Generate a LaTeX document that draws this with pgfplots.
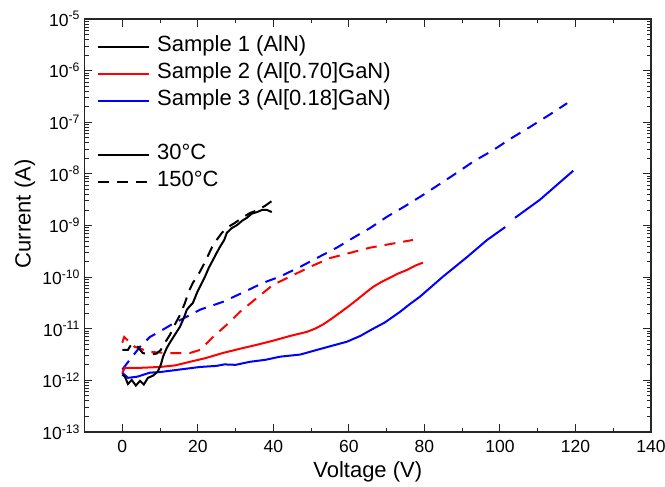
\documentclass[border=0pt]{standalone}
\usepackage{pgfplots}
\pgfplotsset{compat=1.18}
\usepackage{fontspec}
\setmainfont{Liberation Sans}
\newcommand{\tickfont}{\fontsize{17.5}{20}\selectfont}
\newcommand{\labfont}{\fontsize{22}{26}\selectfont}
\begin{document}
\begin{tikzpicture}
\begin{axis}[
  scale only axis,
  width=566.5pt, height=413pt,
  xmin=-10, xmax=140,
  ymode=log, log basis y=10,
  ymin=1e-13, ymax=1e-5,
  xtick={0,20,...,140},
  minor xtick={-10,10,30,...,130},
  ytick={1e-13,1e-12,1e-11,1e-10,1e-9,1e-8,1e-7,1e-6,1e-5},
  minor ytick={2e-13,3e-13,4e-13,5e-13,6e-13,7e-13,8e-13,9e-13,
    2e-12,3e-12,4e-12,5e-12,6e-12,7e-12,8e-12,9e-12,
    2e-11,3e-11,4e-11,5e-11,6e-11,7e-11,8e-11,9e-11,
    2e-10,3e-10,4e-10,5e-10,6e-10,7e-10,8e-10,9e-10,
    2e-9,3e-9,4e-9,5e-9,6e-9,7e-9,8e-9,9e-9,
    2e-8,3e-8,4e-8,5e-8,6e-8,7e-8,8e-8,9e-8,
    2e-7,3e-7,4e-7,5e-7,6e-7,7e-7,8e-7,9e-7,
    2e-6,3e-6,4e-6,5e-6,6e-6,7e-6,8e-6,9e-6},
  tick align=inside,
  major tick length=8pt,
  minor tick length=4.5pt,
  axis line style={line width=1.1pt, black!85},
  every tick/.style={line width=0.9pt, black!85},
  /pgf/number format/assume math mode=true,
  xticklabel style={font=\tickfont, yshift=-5pt},
  yticklabel style={font=\tickfont, xshift=-1pt},
  yticklabel={10\textsuperscript{\pgfmathprintnumber[fixed,precision=0]{\tick}}},
  xlabel={Voltage (V)},
  ylabel={Current (A)},
  xlabel style={font=\labfont, at={(axis description cs:0.5,-0.097)}, anchor=center},
  ylabel style={font=\labfont, at={(axis description cs:-0.105,0.528)}, anchor=center},
  legend cell align=left,
  legend image code/.code={\draw[#1] (0pt,0pt) -- (51pt,0pt);},
  legend style={draw=none, fill=none, font=\labfont, inner sep=0pt,
    at={(axis description cs:0,1)}, anchor=north west, xshift=12.5pt, yshift=-17.5pt,
    row sep=7pt, column sep=7pt,
    nodes={inner sep=0pt, text height=15pt, text depth=5pt}},
]
\path (rel axis cs:0,0) coordinate (O);
% Sample 3 (blue) 30C
\addplot[blue, line width=2pt, forget plot] coordinates {
(0,1.41e-12) (1.5,1.12e-12) (4,1.18e-12) (7.3,1.41e-12) (10,1.45e-12) (14,1.58e-12) (20.6,1.82e-12) (25,1.91e-12)
(27,2.04e-12) (30,2.00e-12) (33.8,2.29e-12) (38,2.51e-12) (41.8,2.88e-12) (47.1,3.16e-12) (51.5,3.89e-12) (55,4.57e-12)
(59.5,5.62e-12) (63,7.24e-12) (66.4,1.00e-11) (69.5,1.32e-11) (73.6,2.14e-11) (76,2.95e-11) (78.8,4.17e-11)
(84.9,1.02e-10) (91.3,2.45e-10) (96.6,5.25e-10) (101.4,9.33e-10)
};
\addplot[blue, line width=2pt, forget plot] coordinates {
(104,1.41e-9) (110.6,3.16e-9) (115,6.03e-9) (119.4,1.15e-8)
};
% Sample 3 (blue) 150C
\addplot[blue, line width=2pt, dash pattern=on 11pt off 8pt, forget plot] coordinates {
(0,1.62e-12) (2,2.51e-12) (4.7,4.47e-12) (7.3,6.92e-12) (10,8.91e-12) (13,1.20e-11) (17,1.70e-11) (20.6,2.34e-11)
(26.6,3.31e-11) (31.9,5.01e-11) (37.3,7.76e-11) (41.7,1.02e-10) (47.1,1.58e-10) (51.5,2.34e-10) (56.8,3.72e-10)
(61.1,5.75e-10) (65.6,8.91e-10) (70.1,1.48e-9) (75,2.40e-9) (79.6,3.89e-9) (84,6.31e-9) (88.6,1.05e-8) (93,1.74e-8)
(98.2,2.88e-8) (103,4.90e-8) (108,8.13e-8) (113,1.38e-7) (117.8,2.34e-7)
};
% Sample 2 (red) 30C
\addplot[red, line width=2pt, forget plot] coordinates {
(0,1.41e-12) (0.7,1.74e-12) (4,1.74e-12) (10,1.82e-12) (14,1.95e-12) (17.9,2.29e-12) (22,2.69e-12) (26.6,3.39e-12)
(31,4.07e-12) (35.7,4.90e-12) (40,5.89e-12) (44.4,7.24e-12) (48.9,8.71e-12) (51,1.00e-11) (53.1,1.20e-11) (55.5,1.58e-11)
(57.6,2.04e-11) (60,2.75e-11) (62.1,3.63e-11) (64.3,4.90e-11) (66.4,6.46e-11) (68.7,8.13e-11) (70.9,9.77e-11)
(73,1.17e-10) (75.4,1.38e-10) (77.5,1.66e-10) (79.6,1.91e-10)
};
% Sample 2 (red) 150C
\addplot[red, line width=2pt, dash pattern=on 11pt off 8pt, forget plot] coordinates {
(0,5.37e-12) (0.5,6.92e-12) (3.3,4.47e-12) (7.3,3.55e-12) (12.6,3.39e-12) (17.9,3.39e-12) (20.6,3.89e-12) (24,6.92e-12)
(27.7,1.20e-11) (31.2,2.14e-11) (35.7,3.98e-11) (39.9,7.08e-11) (44.4,1.02e-10) (49.7,1.58e-10) (55,2.34e-10)
(60.3,2.95e-10) (65.6,3.72e-10) (70.9,4.37e-10) (77,5.25e-10)
};
% Sample 1 (black) 30C
\addplot[black, line width=2pt, forget plot] coordinates {
(0,1.29e-12) (0.7,1.18e-12) (1.5,8.51e-13) (2.5,1.02e-12) (3.6,7.94e-13) (4.7,9.77e-13) (5.7,8.32e-13) (6.8,1.12e-12)
(8.1,1.23e-12) (9.4,1.48e-12) (10.2,2.00e-12) (10.8,2.88e-12) (11.8,4.27e-12) (12.6,5.37e-12) (13.9,7.59e-12)
(15.3,1.10e-11) (16.3,1.62e-11) (17.1,2.34e-11) (17.9,2.75e-11) (18.7,3.16e-11) (19.8,5.01e-11) (20.8,7.08e-11)
(21.9,1.02e-10) (22.9,1.51e-10) (24,2.14e-10) (25,2.95e-10) (25.9,3.89e-10) (27,5.25e-10) (27.7,7.24e-10)
(29,8.91e-10) (30.4,1.02e-9) (31.7,1.23e-9) (33,1.41e-9) (34.3,1.70e-9) (35.7,1.82e-9) (37,2.00e-9) (38.3,2.00e-9)
(39.6,1.82e-9)
};
% Sample 1 (black) 150C
\addplot[black, line width=2pt, dash pattern=on 11pt off 8pt, forget plot] coordinates {
(0,3.89e-12) (1.5,3.89e-12) (2.5,5.13e-12) (4.1,4.47e-12) (5.4,3.39e-12) (7.3,3.16e-12) (9.1,3.31e-12) (10.2,3.89e-12)
(11.3,5.37e-12) (12.6,7.59e-12) (13.9,1.20e-11) (15.3,1.86e-11) (16.6,3.16e-11) (17.6,5.25e-11) (18.7,7.76e-11)
(20,1.07e-10) (21.1,1.51e-10) (22.4,2.34e-10) (23.7,3.72e-10) (25,5.25e-10) (26.4,7.24e-10) (28,9.33e-10)
(29.8,1.12e-9) (31.7,1.41e-9) (33.8,1.74e-9) (35.9,2.00e-9) (37.8,2.40e-9) (39.7,3.02e-9)
};
\addlegendimage{black, line width=2pt}
\addlegendentry{Sample 1 (AlN)}
\addlegendimage{red, line width=2pt}
\addlegendentry{Sample 2 (Al[0.70]GaN)}
\addlegendimage{blue, line width=2pt}
\addlegendentry{Sample 3 (Al[0.18]GaN)}
\addlegendimage{empty legend}
\addlegendentry{}
\addlegendimage{black, line width=2pt}
\addlegendentry{30°C}
\addlegendimage{black, line width=2pt, dash pattern=on 11pt off 8pt}
\addlegendentry{150°C}
\end{axis}
\pgfresetboundingbox
\path ([xshift=-84.5pt,yshift=-55pt]O) rectangle ++(665pt,487pt);
\end{tikzpicture}
\end{document}
